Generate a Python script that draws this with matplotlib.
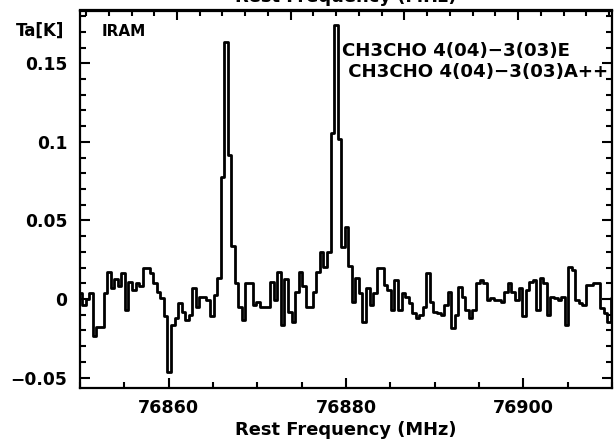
import numpy as np
import matplotlib
matplotlib.use("Agg")
import matplotlib.pyplot as plt
from matplotlib.ticker import MultipleLocator, NullFormatter

# spectrum: channel centres (MHz) and antenna temperature Ta (K)
chan0 = 76850.06
dchan = 0.4
ta = [0.004, -0.004, 0.000, 0.004, -0.0235, -0.0175, -0.0175, 0.004, 0.0175, 0.007,
      0.013, 0.008, 0.0164, -0.007, 0.011, 0.006, 0.010, 0.008, 0.0196, 0.0196,
      0.0164, 0.010, 0.0047, 0.0005, -0.011, -0.0462, -0.0164, -0.012, -0.0027, -0.008,
      -0.0133, -0.010, 0.007, -0.0048, 0.0015, 0.0015, -0.0006, -0.011, 0.0026, 0.0132,
      0.0774, 0.1637, 0.0917, 0.034, 0.010, -0.0048, -0.0133, 0.010, 0.010, -0.0037,
      -0.0017, -0.0048, -0.0048, -0.0048, 0.011, -0.0006, 0.0175, -0.0164, 0.013, -0.008,
      -0.0144, 0.0047, 0.0175, 0.008, -0.0048, -0.0048, 0.0047, 0.0175, 0.030, 0.0206,
      0.030, 0.1059, 0.1744, 0.102, 0.033, 0.046, 0.021, -0.0016, 0.0132, 0.0037,
      -0.0144, 0.0069, -0.0038, 0.0037, 0.0196, 0.0196, 0.009, 0.0058, -0.0069, 0.0121,
      -0.0069, 0.0037, 0.0015, -0.0027, -0.0091, -0.0122, -0.010, -0.0048, 0.0164, -0.0016,
      -0.008, -0.0091, -0.010, -0.0038, 0.0047, -0.0186, -0.010, 0.0079, 0.0015, -0.0069,
      -0.0122, -0.0069, 0.010, 0.0121, 0.010, -0.0006, 0.0005, -0.0006, -0.0006, -0.0016,
      0.0047, 0.010, 0.0047, -0.0006, 0.0069, -0.011, 0.0058, 0.011, 0.0121, -0.0069,
      0.0132, 0.010, -0.010, 0.0015, 0.0005, -0.0006, 0.0015, -0.0165, 0.0206, 0.0185,
      -0.0006, -0.0027, -0.0038, 0.009, 0.009, 0.010, 0.010, -0.0059, -0.0091, -0.0144,
      0.0005]
freq = chan0 + dchan * np.arange(len(ta))

xticks = [76860, 76880, 76900]
xtick_labels = ["76860", "76880", "76900"]
yticks = [-0.05, 0, 0.05, 0.1, 0.15]
ytick_labels = ["\u22120.05", "0", "0.05", "0.1", "0.15"]
lines = ["CH3CHO 4(04)\u22123(03)E", " CH3CHO 4(04)\u22123(03)A++"]

# velocity scale on top axis
F0 = 76873.76
C = 299792.458


def f2v(f):
    return (F0 - f) / F0 * C


def v2f(v):
    return F0 * (1 - v / C)


plt.rcParams['font.family'] = ['DejaVu Sans']
plt.rcParams['font.weight'] = 'bold'
plt.rcParams['axes.labelweight'] = 'bold'
fig = plt.figure(figsize=(6.14, 4.43), dpi=100)
ax = fig.add_axes([80 / 614, 1 - 387.7 / 443, 532 / 614, 377.2 / 443])

ax.step(freq, ta, where='mid', color='black', lw=2.0)

ax.set_xlim(76850, 76910)
ax.set_ylim(-0.0564, 0.1836)
ax.set_xticks(xticks, xtick_labels)
ax.set_yticks(yticks, ytick_labels)
ax.xaxis.set_minor_locator(MultipleLocator(5))
ax.yaxis.set_minor_locator(MultipleLocator(0.01))
ax.tick_params(which='both', direction='in', width=1.5, right=True, top=False)
ax.tick_params(which='major', length=7)
ax.tick_params(which='minor', length=4)
ax.tick_params(axis='y', pad=9, labelsize=12.3)
ax.tick_params(axis='x', pad=8, labelsize=12.6)
for s in ax.spines.values():
    s.set_linewidth(1.6)

sec = ax.secondary_xaxis('top', functions=(f2v, v2f))
sec.xaxis.set_major_locator(MultipleLocator(50))
sec.xaxis.set_minor_locator(MultipleLocator(10))
sec.xaxis.set_major_formatter(NullFormatter())
sec.tick_params(which='both', direction='in', width=1.5)
sec.tick_params(which='major', length=7)
sec.tick_params(which='minor', length=4)
sec.spines['top'].set_linewidth(1.6)

ax.set_xlabel("Rest Frequency (MHz)", fontsize=12.9, fontweight='bold', labelpad=3)
fig.text(346 / 614, 1 - 2.5 / 443, "Rest Frequency (MHz)", ha='center', va='baseline',
         fontsize=12.9)
fig.text(64 / 614, 1 - 31 / 443, "Ta[K]", ha='right', va='center', fontsize=12)
ax.text(0.041, 0.963, "IRAM", transform=ax.transAxes, ha='left', va='top', fontsize=11)
ax.text(76879.55, 0.1546, lines[0], ha='left', va='baseline', fontsize=13.1)
ax.text(76879.55, 0.1412, lines[1], ha='left', va='baseline', fontsize=13.1, clip_on=False)

fig.savefig("out.png", dpi=100)
